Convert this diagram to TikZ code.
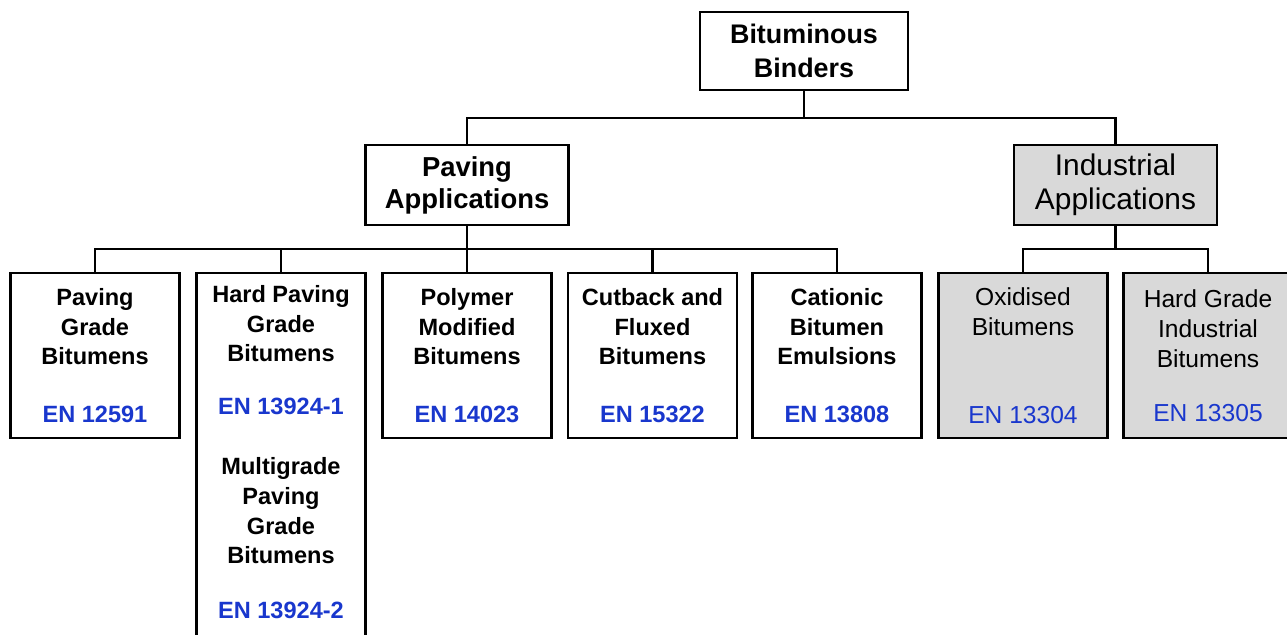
\documentclass[tikz,border=0pt]{standalone}
\usepackage{fontspec}
\setmainfont{Liberation Sans}
\usepackage{tikz}
\definecolor{stdblue}{RGB}{25,55,205}
\definecolor{indgray}{RGB}{217,217,217}
\newcommand{\stdno}[1]{\textcolor{stdblue}{#1}}

\begin{document}
\begin{tikzpicture}[x=0.02cm, y=-0.02cm,
every node/.style={rectangle, draw, line width=1.3pt, align=center, inner sep=0pt},
rootbox/.style={minimum width=4.16cm, minimum height=1.56cm, font=\bfseries\fontsize{15.3}{19.3}\selectfont},
appbox/.style={minimum width=4.06cm, minimum height=1.6cm, font=\bfseries\fontsize{15.6}{18.2}\selectfont},
indbox/.style={fill=indgray, font=\fontsize{17}{19.3}\selectfont},
leaf/.style={anchor=north, minimum width=3.38cm, minimum height=3.3cm, inner ysep=0.24cm, font=\bfseries\fontsize{13.4}{17}\selectfont},
indleaf/.style={fill=indgray, font=\fontsize{14}{17}\selectfont},
link/.style={line width=1.3pt}]
\useasboundingbox (0,0) rectangle (1287,635);
\clip (0,0) rectangle (1287,635);

\node[rootbox] (root) at (804,51) {Bituminous\\Binders};
\node[appbox] (pav) at (467,185) {Paving\\Applications};
\node[appbox, indbox] (ind) at (1115.5,185) {Industrial\\Applications};

\node[leaf] (pgb) at (95,272) {Paving\\Grade\\Bitumens\\[16pt]\stdno{EN 12591}};
\node[leaf] (hpg) at (281,272) {Hard Paving\\Grade\\Bitumens\\[13pt]\stdno{EN 13924-1}\\[17pt]Multigrade\\Paving\\Grade\\Bitumens\\[14pt]\stdno{EN 13924-2}\\[6pt]\mbox{}};
\node[leaf] (pmb) at (467,272) {Polymer\\Modified\\Bitumens\\[16pt]\stdno{EN 14023}};
\node[leaf] (cfb) at (652.5,272) {Cutback and\\Fluxed\\Bitumens\\[16pt]\stdno{EN 15322}};
\node[leaf] (cbe) at (837,272) {Cationic\\Bitumen\\Emulsions\\[16pt]\stdno{EN 13808}};
\node[leaf, indleaf] (oxb) at (1023,272) {Oxidised\\Bitumens\\[33pt]\stdno{EN 13304}};
\node[leaf, indleaf] (hgi) at (1208,272) {Hard Grade\\Industrial\\Bitumens\\[14pt]\stdno{EN 13305}};

\draw[link] (root.south) -- ++(0,27) -| (pav.north);
\draw[link] (root.south) -- ++(0,27) -| (ind.north);
\foreach \n in {pgb,hpg,pmb,cfb,cbe}
    \draw[link] (pav.south) -- ++(0,23) -| (\n.north);
\foreach \n in {oxb,hgi}
    \draw[link] (ind.south) -- ++(0,23) -| (\n.north);
\end{tikzpicture}
\end{document}
